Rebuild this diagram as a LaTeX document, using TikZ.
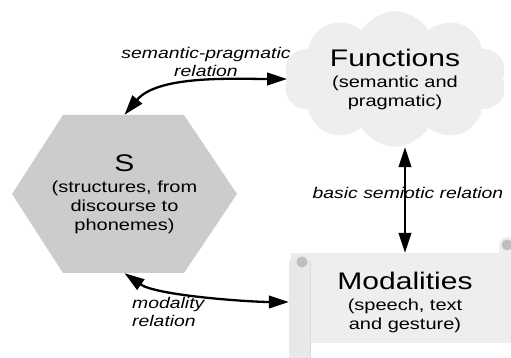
\documentclass[tikz,border=0pt]{standalone}
\usepackage{fontspec}
\setmainfont{Liberation Sans}[FakeStretch=1.25]
\usetikzlibrary{arrows.meta,shapes.symbols}
\definecolor{hexgray}{HTML}{CCCCCC}
\definecolor{paleg}{HTML}{EEEEEE}
\definecolor{rollg}{HTML}{E8E8E8}
\definecolor{edgeg}{HTML}{DADADA}
\definecolor{curlg}{HTML}{BEBEBE}
\newcommand{\ttl}{\fontsize{24}{21}\selectfont}
\newcommand{\subtxt}{\fontsize{16}{19}\selectfont}
\tikzset{
  rel/.style={{Triangle[length=20pt,width=12.5pt]}-{Triangle[length=20pt,width=12.5pt]}, line width=2.3pt},
  lbl/.style={font=\fontsize{15.5}{17.5}\selectfont\itshape, inner sep=0pt},
  txt/.style={font=\subtxt, align=center}
}

\begin{document}
\begin{tikzpicture}[x=1pt, y=1pt]
        \useasboundingbox (0,0) rectangle (511,358);
        \clip (0,0) rectangle (511,358);
        % hexagon
        \fill [hexgray] (12,164) -- (63,243) -- (184,243) -- (237,164) -- (184,85) -- (63,85) -- cycle;
        \node [txt, minimum width=225, minimum height=158] (s) at (124.5,164)
            {{\ttl S}\\[2pt] (structures, from\\ discourse to\\ phonemes)};
        % cloud
        \node [txt, cloud, cloud puffs=10, cloud puff arc=120, aspect=1.7, fill=paleg, minimum width=223, minimum height=130, inner sep=0pt] (f) at (395,279)
            {{\ttl Functions}\\[2pt] (semantic and\\ pragmatic)};
        % scroll
        \fill [paleg] (291,15) rectangle (520,105);
        \fill [paleg, rounded corners=8] (499,95) rectangle (530,121);
        \fill [curlg] (507,113) circle (5.5);
        \fill [rollg, rounded corners=9] (289,-10) -- (289,103) -- (310,103) -- (310,-10) -- cycle;
        \draw [edgeg, line width=0.8pt] (310,97) -- (310,-10);
        \fill [curlg] (302,96) circle (5.5);
        \node [txt, minimum width=232, minimum height=98] (m) at (405,56)
            {{\ttl Modalities}\\[2pt] (speech, text\\ and gesture)};
        % relations
        \node [lbl, align=center] (sp) at (206,296) {semantic-pragmatic\\relation};
        \node [lbl, align=left, anchor=west] (mr) at (132,46) {modality\\relation};
        \node [lbl] (bs) at (408,165) {basic semiotic relation};
        \draw [rel] (s.north) to [out=50, in=180, looseness=0.8] (f.west);
        \draw [rel] (s.south) to [out=-35, in=180, looseness=0.6] (m.west);
        \draw [rel] (m.north |- f.south) -- (m.north);
    \end{tikzpicture}
\end{document}
